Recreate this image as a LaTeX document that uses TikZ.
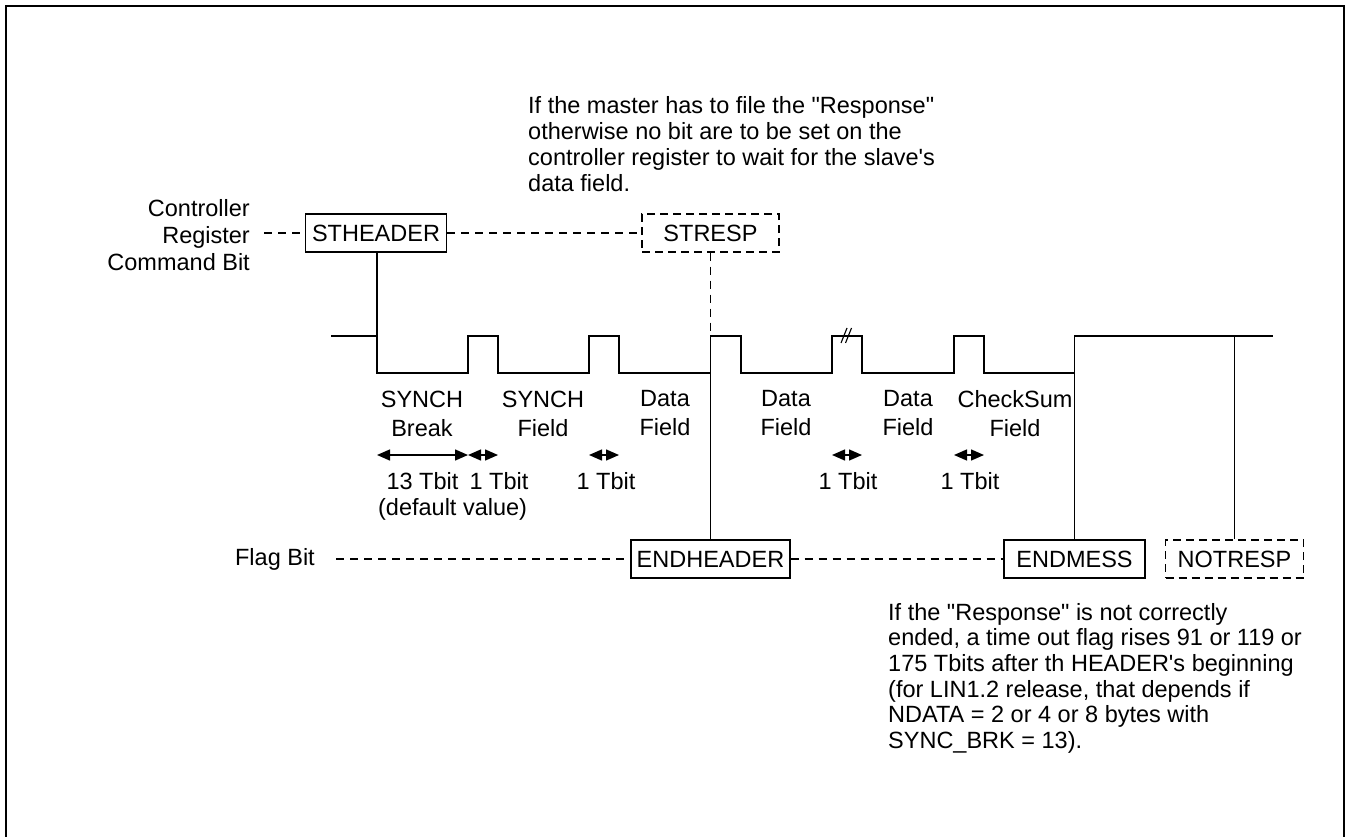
\documentclass[tikz,border=0pt]{standalone}
\usepackage{fontspec}
\setmainfont{Liberation Sans}
\usetikzlibrary{arrows.meta}
\begin{document}
\begin{tikzpicture}[x=1pt,y=-1pt,
  every node/.style={font=\fontsize{23.5}{26}\selectfont, inner sep=0pt},
  regbox/.style={draw, line width=1.4pt, minimum height=38pt, inner sep=0pt},
  dbox/.style={regbox, dash pattern=on 8pt off 5pt},
  dline/.style={line width=1.2pt, dash pattern=on 8pt off 6pt},
  sig/.style={line width=1.8pt},
  tarr/.style={line width=1.4pt, {Triangle[length=13pt,width=11pt]}-{Triangle[length=13pt,width=11pt]}},
  lbl/.style={align=center, font=\fontsize{23.5}{29}\selectfont},
  note/.style={align=left, anchor=north west},
]
\useasboundingbox (0,0) rectangle (1346,837);
% frame
\draw[line width=2pt] (6,837) -- (6,6.5) -- (1344,6.5) -- (1344,837);

% boxes
\node[regbox, minimum width=141pt] (sth) at (376,233) {STHEADER};
\node[dbox, minimum width=137pt] (str) at (710.5,233) {STRESP};
\node[regbox, minimum width=159pt] (endh) at (710.5,559) {ENDHEADER};
\node[regbox, minimum width=141pt] (endm) at (1074.5,559) {ENDMESS};
\node[dbox, minimum width=138pt] (notr) at (1234.5,559) {NOTRESP};

% left labels
\node[align=right, anchor=east, font=\fontsize{23.5}{27}\selectfont] (ctl) at (250,235) {Controller\\Register\\Command Bit};
\coordinate (regend) at (264,233);
\draw[dline] (regend) -- (sth.west);
\draw[dline] (sth.east) -- (str.west);

\node[anchor=east] (flag) at (315,559) {Flag Bit};
\coordinate (flagend) at (336,559);
\draw[dline] (flagend) -- (endh.west);
\draw[dline] (endh.east) -- (endm.west);

% signal coordinates
\def\hi{336}\def\lo{373}
\coordinate (s0) at (331,\hi);
\coordinate (aH) at (377,\hi);   \coordinate (aL) at (377,\lo);
\coordinate (bH) at (468,\hi);   \coordinate (bL) at (468,\lo);
\coordinate (cH) at (498,\hi);   \coordinate (cL) at (498,\lo);
\coordinate (dH) at (589,\hi);   \coordinate (dL) at (589,\lo);
\coordinate (eH) at (619,\hi);   \coordinate (eL) at (619,\lo);
\coordinate (fH) at (710.5,\hi); \coordinate (fL) at (710.5,\lo);
\coordinate (gH) at (741,\hi);   \coordinate (gL) at (741,\lo);
\coordinate (hH) at (832,\hi);   \coordinate (hL) at (832,\lo);
\coordinate (iH) at (862,\hi);   \coordinate (iL) at (862,\lo);
\coordinate (jH) at (954,\hi);   \coordinate (jL) at (954,\lo);
\coordinate (kH) at (984,\hi);   \coordinate (kL) at (984,\lo);
\coordinate (lH) at (1074.5,\hi);\coordinate (lL) at (1074.5,\lo);
\coordinate (mH) at (1234.5,\hi);
\coordinate (sE) at (1273,\hi);

\draw[sig] (s0) -- (aH) -- (aL) -- (bL) -- (bH) -- (cH) -- (cL) -- (dL) -- (dH)
  -- (eH) -- (eL) -- (fL) -- (fH) -- (gH) -- (gL) -- (hL) -- (hH) -- (iH) -- (iL)
  -- (jL) -- (jH) -- (kH) -- (kL) -- (lL) -- (lH) -- (sE);

% connectors to boxes
\draw[sig] (sth.south -| aH) -- (aH);
\draw[dline] (str.south) -- (fH);
\draw[sig] (fL) -- (endh.north);
\draw[sig] (lL) -- (endm.north);
\draw[sig] (mH) -- (notr.north);

% break mark
\draw[line width=1.1pt] (841,343) -- (847,328);
\draw[line width=1.1pt] (845.5,343) -- (851.5,328);

% field labels
\node[lbl] (l1) at (422,413.5) {SYNCH\\Break};
\node[lbl] (l2) at (543,413.5) {SYNCH\\Field};
\node[lbl] (l3) at (665,413.5) {Data\\Field};
\node[lbl] (l4) at (786,413.5) {Data\\Field};
\node[lbl] (l5) at (908,413.5) {Data\\Field};
\node[lbl] (l6) at (1015,413.5) {CheckSum\\Field};

% timing arrows
\coordinate (a1) at (377,455); \coordinate (b1) at (468,455);
\coordinate (c1) at (498,455); \coordinate (d1) at (589,455);
\coordinate (e1) at (619,455); \coordinate (h1) at (832,455);
\coordinate (i1) at (862,455); \coordinate (j1) at (954,455);
\coordinate (k1) at (984,455);
\draw[tarr] (a1) -- (b1);
\draw[tarr] (b1) -- (c1);
\draw[tarr] (d1) -- (e1);
\draw[tarr] (h1) -- (i1);
\draw[tarr] (j1) -- (k1);

\node[anchor=base] (t13) at (422.5,489) {13 Tbit};
\node[anchor=base] (t1a) at (499,489) {1 Tbit};
\node[anchor=base] (dv) at (452.6,515) {(default value)};
\node[anchor=base] (t1b) at (606,489) {1 Tbit};
\node[anchor=base] (t1c) at (848,489) {1 Tbit};
\node[anchor=base] (t1d) at (970,489) {1 Tbit};

% notes
\node[note] (n1) at (528,96) {If the master has to file the \textquotedbl Response\textquotedbl\\otherwise no bit are to be set on the\\controller register to wait for the slave\textquotesingle s\\data field.};
\node[note, font=\fontsize{23.5}{25.6}\selectfont] (n2) at (888,603) {If the \textquotedbl Response\textquotedbl{} is not correctly\\ended, a time out flag rises 91 or 119 or\\175 Tbits after th HEADER\textquotesingle s beginning\\(for LIN1.2 release, that depends if\\NDATA = 2 or 4 or 8 bytes with\\SYNC\_BRK = 13).};
\end{tikzpicture}
\end{document}
